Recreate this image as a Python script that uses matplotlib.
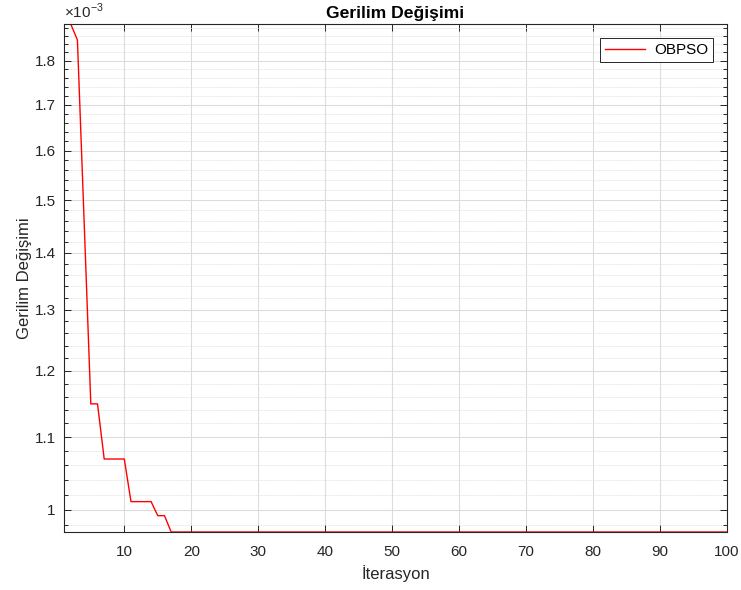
import matplotlib.pyplot as plt
import matplotlib.ticker as mticker
import numpy as np

plt.rcParams['font.family'] = ['Liberation Sans', 'DejaVu Sans']
plt.rcParams['mathtext.fontset'] = 'custom'
plt.rcParams['mathtext.rm'] = 'Liberation Sans'

# OBPSO convergence (value per iteration, 100 iterations)
iterations = np.arange(1, 101)
head = [1.889e-3, 1.889e-3, 1.850e-3, 1.460e-3, 1.149e-3, 1.149e-3,
        1.069e-3, 1.069e-3, 1.069e-3, 1.069e-3,
        1.011e-3, 1.011e-3, 1.011e-3, 1.011e-3,
        0.9926e-3, 0.9926e-3]
tail = [0.9716e-3] * (100 - len(head))
obpso = np.array(head + tail)

y_major = [1.0, 1.1, 1.2, 1.3, 1.4, 1.5, 1.6, 1.7, 1.8]
y_minor = np.round(np.arange(0.98, 1.89, 0.02), 2)
x_major = [10, 20, 30, 40, 50, 60, 70, 80, 90, 100]

edge = '#262626'

fig = plt.figure(figsize=(7.41, 5.90), dpi=100)
ax = fig.add_axes([0.0864, 0.0983, 0.8947, 0.861])

ax.plot(iterations, obpso * 1e3, color='#ff0000', lw=1.0, label='OBPSO')

ax.set_yscale('log')
ax.set_xlim(1, 100)
ax.set_ylim(obpso.min() * 1e3, obpso.max() * 1e3)

ax.yaxis.set_major_locator(mticker.FixedLocator(y_major))
ax.yaxis.set_major_formatter(mticker.FixedFormatter([f'{v:g}' for v in y_major]))
ax.yaxis.set_minor_locator(mticker.FixedLocator([v for v in y_minor if round(v * 10, 6) % 1 != 0]))
ax.yaxis.set_minor_formatter(mticker.NullFormatter())
ax.set_xticks(x_major)

ax.grid(True, which='major', color='#dcdcdc', lw=0.8)
ax.grid(True, which='minor', axis='y', color='#dcdcdc', lw=0.6, ls=(0, (1, 1)))
ax.set_axisbelow(True)

ax.tick_params(which='both', direction='in', top=True, right=True,
               colors=edge, labelcolor='#262626', labelsize=11)
ax.tick_params(which='major', length=5, width=0.7)
ax.tick_params(which='minor', length=3, width=0.7)
ax.tick_params(axis='x', which='major', pad=9)
ax.tick_params(axis='y', which='major', pad=6)
for s in ax.spines.values():
    s.set_color(edge)
    s.set_linewidth(0.8)

ax.set_title('Gerilim Değişimi', fontsize=12.6, fontweight='bold', color='black', pad=4)
ax.set_xlabel('İterasyon', fontsize=12, color='#262626', labelpad=5)
ax.set_ylabel('Gerilim Değişimi', fontsize=12, color='#262626', labelpad=2)

ax.text(0.0, 1.006, r'$\times10^{-3}$', transform=ax.transAxes, fontsize=11,
        color='#262626', ha='left', va='bottom')

leg = ax.legend(loc='upper right', fontsize=11, fancybox=False, framealpha=1,
                edgecolor=edge, borderaxespad=0.9, handlelength=2.6,
                borderpad=0.35, handletextpad=0.6)
leg.get_frame().set_linewidth(0.7)

fig.savefig('out.png', dpi=100)
